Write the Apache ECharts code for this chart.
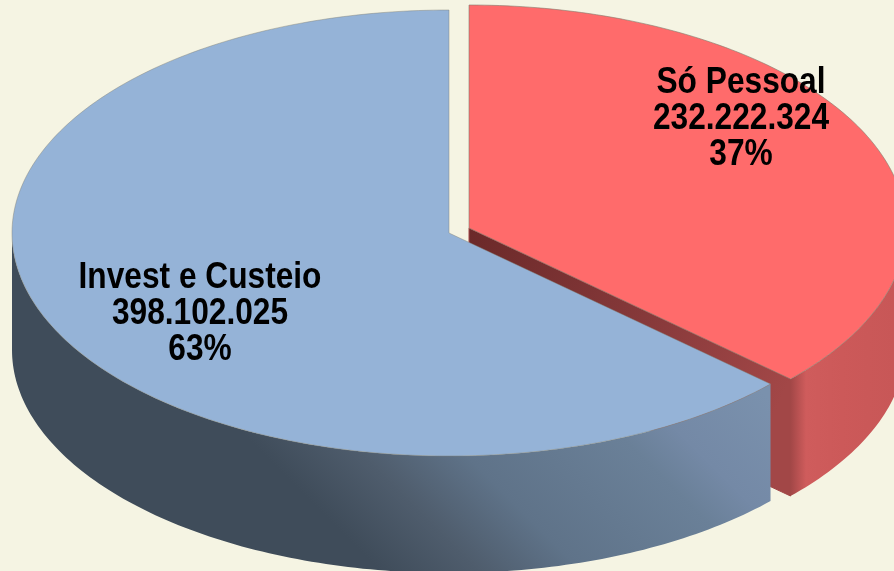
<!DOCTYPE html>
<html>
<head>
<meta charset="utf-8">
<style>
    html, body {margin: 0; padding: 0; background: #f5f4e3;}
    #chart {width: 894px; height: 571px;}
</style>
<script src="https://cdn.jsdelivr.net/npm/echarts@6/dist/echarts.min.js"></script>
</head>
<body>
<div id="chart"></div>
<script>
    var categories = ['Só Pessoal', 'Invest e Custeio'];
    var values = [232222324, 398102025];
    var valueLabels = ['232.222.324', '398.102.025'];
    var percentLabels = ['37%', '63%'];

    var total = values[0] + values[1];
    var RX = 437, RY = 223, DEPTH = 117;

    function linear(x, y, x2, y2, stops) {
        return {
            type: 'linear', x: x, y: y, x2: x2, y2: y2, global: true,
            colorStops: stops.map(function (s) { return {offset: s[0], color: s[1]}; })
        };
    }

    //椭圆上的点，角度从正上方顺时针
    function arc(cx, cy, from, to) {
        var pts = [];
        var n = Math.ceil(Math.abs(to - from) * 180 / Math.PI);
        for (var i = 0; i <= n; i++) {
            var a = from + (to - from) * i / n;
            pts.push([cx + RX * Math.sin(a), cy - RY * Math.cos(a)]);
        }
        return pts;
    }

    function wall(top) {
        var bottom = top.map(function (p) { return [p[0], p[1] + DEPTH]; }).reverse();
        return top.concat(bottom);
    }

    function poly(points, fill, stroke) {
        return {
            type: 'polygon',
            shape: {points: points},
            style: {fill: fill, stroke: stroke || null, lineWidth: stroke ? 1 : 0}
        };
    }

    function label(x, y, i) {
        return {
            type: 'text',
            z2: 10,
            x: x,
            y: y,
            scaleX: 0.88,
            style: {
                x: 0, y: 0,
                text: categories[i] + '\n' + valueLabels[i] + '\n' + percentLabels[i],
                align: 'center',
                verticalAlign: 'middle',
                fill: '#000',
                font: 'bold 36px "Liberation Sans", sans-serif',
                lineHeight: 36
            }
        };
    }

    function renderItem(params, api) {
        var i = params.dataIndex;
        var children = [];
        if (i === 0) {
            // 红色扇区，向右上方分离
            var split = api.value(1) / total * Math.PI * 2;
            var cx = 469, cy = 228;
            var edge = arc(cx, cy, split, Math.PI / 2 - 0.01);
            var corner = edge[0];
            children.push(poly(wall([[cx, cy], corner]), linear(cx, cy, corner[0], corner[1], [
                [0, '#6b2929'], [0.55, '#86393a'], [1, '#a24747']
            ]), '#a24747'));
            children.push(poly(wall(edge), linear(corner[0], 0, 894, 0, [
                [0, '#a24747'], [0.15, '#cf5c5c'], [0.5, '#cc5959'], [1, '#c85757']
            ])));
            children.push(poly([[cx, cy]].concat(arc(cx, cy, 0, split)), '#ff6b6b', 'rgba(130,125,110,0.6)'));
            children.push(label(741, 119, i));
        } else {
            var from = Math.PI * 2 - api.value(1) / total * Math.PI * 2;
            var bx = 449, by = 233;
            var outer = arc(bx, by, from, Math.PI * 1.5);
            children.push(poly(wall(outer), linear(390, 580, 670, 300, [
                [0, '#3f4c5a'], [0.18, '#4f5d6d'], [0.36, '#5f7389'], [0.67, '#6a8098'], [0.78, '#7489a6'], [1, '#7a91ad']
            ])));
            children.push(poly([[bx, by]].concat(arc(bx, by, from, Math.PI * 2)), '#95b3d7', 'rgba(130,130,120,0.45)'));
            children.push(label(200, 314, i));
        }
        return {type: 'group', children: children};
    }

    var myChart = echarts.init(document.getElementById('chart'));
    myChart.setOption({
        backgroundColor: '#f5f4e3',
        animation: false,
        series: [{
            type: 'custom',
            coordinateSystem: 'none',
            renderItem: renderItem,
            clip: false,
            data: categories.map(function (name, i) { return [i, values[i]]; })
        }]
    });
</script>
</body>
</html>
